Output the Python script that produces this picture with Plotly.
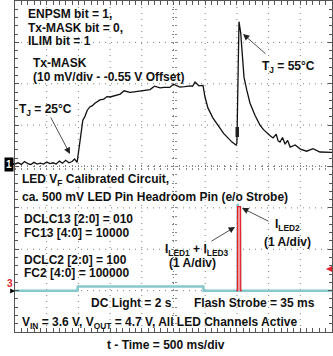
import plotly.graph_objects as go

# ---------------- data ----------------
# Channel 1: Tx-MASK, mV relative to -0.55 V offset (10 mV/div), time in s (500 ms/div)
t_mask = [0.00, 0.05, 0.10, 0.15, 0.20, 0.25, 0.30, 0.35, 0.40, 0.45, 0.50, 0.55, 0.60, 0.65,
          0.70, 0.75, 0.80, 0.85, 0.90, 0.94, 0.98,
          1.01, 1.04, 1.07, 1.10, 1.14, 1.18, 1.22, 1.26, 1.30, 1.34, 1.40, 1.45, 1.50, 1.55,
          1.60, 1.66, 1.72, 1.81, 1.85, 1.90, 1.97, 2.05, 2.13, 2.20, 2.29, 2.35, 2.44, 2.50,
          2.60, 2.68, 2.76, 2.80, 2.84, 2.90, 2.965,
          2.997, 3.044, 3.123, 3.18, 3.233, 3.29, 3.344, 3.40, 3.423, 3.46, 3.486, 3.50, 3.515,
          3.533, 3.56, 3.585, 3.612, 3.655, 3.707, 3.785, 3.864, 3.92, 3.97, 4.02, 4.07, 4.12,
          4.15, 4.18, 4.22, 4.26, 4.30, 4.34, 4.42, 4.50, 4.60, 4.70, 4.81, 4.90, 5.00]
v_mask = [0.6, 0.9, 0.5, 1.2, 0.7, 0.5, 1.0, 0.6, 0.8, 0.6, 1.1, 0.7, 0.9, 0.6,
          1.3, 0.8, 1.5, 0.9, 1.2, 1.8, 1.0,
          4.0, 8.1, 11.2, 12.0, 13.6, 14.4, 14.7, 15.3, 15.6, 16.1, 16.3, 16.9, 16.8, 17.0,
          17.1, 17.5, 18.3, 17.9, 18.0, 18.1, 18.2, 18.4, 18.6, 19.4, 19.0, 19.1, 19.1, 19.9,
          19.2, 19.3, 19.5, 19.4, 20.4, 19.5, 19.6,
          16.8, 14.1, 11.7, 10.3, 9.3, 8.0, 7.1, 6.3, 5.9, 5.5, 5.2, 5.6, 20.0,
          35.0, 32.3, 25.7, 21.6, 18.5, 15.3, 12.4, 10.0, 8.9, 8.1, 7.5, 6.9, 7.8,
          6.2, 5.9, 7.0, 5.4, 6.3, 4.7, 5.2, 4.2, 3.7, 4.3, 3.5, 3.4, 3.4]

# LED currents in A (1 A/div)
t_led13 = [0.0, 0.985, 0.99, 2.97, 2.975, 3.512, 3.514, 3.518, 3.548, 3.55, 5.0]
i_led13 = [0.0, 0.0, 0.1, 0.1, 0.0, 0.0, 2.1, 1.45, 1.45, 0.0, 0.0]
t_led2 = [3.49, 3.508, 3.51, 3.558, 3.56, 3.58]
i_led2 = [0.0, 0.0, 2.03, 2.03, 0.0, 0.0]

# graticule: 10 x 8 divisions
T_DIV = 0.5      # s/div
V_DIV = 10       # mV/div
N_XDIV, N_YDIV = 10, 8

# ---------------- layout helpers ----------------
W, H = 333, 356
X0, X1, Y0, Y1 = 15, 332, 1, 332


def px(x):
    return (x - X0) / (X1 - X0)


def py(y):
    return (Y1 - y) / (Y1 - Y0)


FONT = dict(family="Liberation Sans, Arial, sans-serif", size=12, color="#111111", weight="bold")

fig = go.Figure()

fig.add_trace(go.Scatter(x=t_led13, y=i_led13, mode="lines", yaxis="y2",
                         line=dict(color="#86c9cc", width=2.5), hoverinfo="skip", showlegend=False))
fig.add_trace(go.Scatter(x=t_led2, y=i_led2, mode="lines", yaxis="y2",
                         line=dict(color="#e3242b", width=1.2), fill="tozeroy",
                         fillcolor="#f29a9a", hoverinfo="skip", showlegend=False))
fig.add_trace(go.Scatter(x=t_mask, y=v_mask, mode="lines",
                         line=dict(color="#111111", width=1.3), hoverinfo="skip", showlegend=False))
# dummy traces to activate centre graticule axes
fig.add_trace(go.Scatter(x=[None], y=[None], xaxis="x2", yaxis="y3", showlegend=False))
fig.add_trace(go.Scatter(x=[None], y=[None], xaxis="x3", yaxis="y4", showlegend=False))

frame = dict(showgrid=False, zeroline=False, showticklabels=False, showline=True,
             linecolor="#555555", linewidth=1, mirror="allticks", ticks="inside",
             ticklen=4, tickcolor="#555555")
centre = dict(showgrid=False, zeroline=False, showticklabels=False, showline=False,
              ticklen=2, tickcolor="#888888", anchor="free", position=0.5)

xr = [0, N_XDIV * T_DIV]
yr = [-N_YDIV / 2 * V_DIV, N_YDIV / 2 * V_DIV]
fig.update_layout(
    width=W, height=H,
    margin=dict(l=X0, r=W - X1, t=Y0, b=H - Y1),
    paper_bgcolor="white", plot_bgcolor="white",
    xaxis=dict(range=xr, dtick=T_DIV, tick0=0,
               minor=dict(dtick=T_DIV / 5, ticklen=3, tickcolor="#555555", ticks="inside"),
               **frame),
    yaxis=dict(range=yr, dtick=V_DIV, tick0=0,
               minor=dict(dtick=V_DIV / 5, ticklen=3, tickcolor="#555555", ticks="inside"),
               **frame),
    yaxis2=dict(range=[-1, 7], overlaying="y", visible=False),
    xaxis2=dict(range=xr, overlaying="x", dtick=T_DIV / 5, ticks="inside", **centre),
    xaxis3=dict(range=xr, overlaying="x", dtick=T_DIV / 5, ticks="outside", **centre),
    yaxis3=dict(range=yr, overlaying="y", dtick=V_DIV / 5, ticks="inside", **centre),
    yaxis4=dict(range=yr, overlaying="y", dtick=V_DIV / 5, ticks="outside", **centre),
)

# dotted graticule lines
gline = dict(color="#808080", width=1, dash="1px,5px")
for k in range(1, N_XDIV):
    fig.add_shape(type="line", xref="x", yref="paper", x0=k * T_DIV, x1=k * T_DIV,
                  y0=0, y1=1, line=gline, layer="below")
for k in range(1, N_YDIV):
    yv = yr[0] + k * V_DIV
    fig.add_shape(type="line", xref="paper", yref="y", x0=0, x1=1,
                  y0=yv, y1=yv, line=gline, layer="below")

texts = [
    ("ENPSM bit = 1,", 26, 14, "left"),
    ("Tx-MASK bit = 0,", 26, 27.5, "left"),
    ("ILIM bit = 1", 26, 41, "left"),
    ("Tx-MASK", 31, 63, "left"),
    ("(10 mV/div - -0.55 V Offset)", 31, 77, "left"),
    ("T<sub>J</sub> = 25°C", 17, 110, "left"),
    ("T<sub>J</sub> = 55°C", 260, 67, "left"),
    ("LED V<sub>F</sub> Calibrated Circuit,", 20, 180, "left"),
    ("ca. 500 mV LED Pin Headroom Pin (e/o Strobe)", 20, 197, "left"),
    ("DCLC13 [2:0] = 010", 22, 219, "left"),
    ("FC13 [4:0] = 10000", 22, 233, "left"),
    ("DCLC2 [2:0] = 100", 22, 260, "left"),
    ("FC2 [4:0] = 100000", 22, 273, "left"),
    ("I<sub>LED1</sub> + I<sub>LED3</sub>", 231, 250, "right"),
    ("(1 A/div)", 193, 263, "center"),
    ("I<sub>LED2</sub>", 273, 225, "left"),
    ("(1 A/div)", 287, 242, "center"),
    ("DC Light = 2 s", 89, 303, "left"),
    ("Flash Strobe = 35 ms", 192, 303, "left"),
    ("V<sub>IN</sub> = 3.6 V, V<sub>OUT</sub> = 4.7 V, All LED Channels Active", 20, 323, "left"),
    ("t - Time = 500 ms/div", 166, 345, "center"),
]
for txt, x, y, anc in texts:
    fig.add_annotation(text=txt, x=px(x), y=py(y), xref="paper", yref="paper",
                       xanchor=anc, yanchor="middle", showarrow=False, font=FONT)

# arrows (head x,y ; tail offset)
arrows = [(70, 154, -20, -38), (243, 34, 24, 21), (235, 227, -25, 15), (242, 208, 28, 14)]
for hx, hy, ax, ay in arrows:
    fig.add_annotation(text="", x=px(hx), y=py(hy), xref="paper", yref="paper",
                       ax=ax, ay=ay, showarrow=True, arrowhead=2, arrowsize=1.6,
                       arrowwidth=0.8, arrowcolor="#222222", standoff=0)

# channel markers
fig.add_annotation(text="1", x=px(4), y=py(164), xref="paper", yref="paper", showarrow=False,
                   font=dict(family="Liberation Sans", size=10, color="white", weight="bold"),
                   bgcolor="black", borderpad=1)
fig.add_annotation(text="", x=px(15), y=py(164), xref="paper", yref="paper", ax=-7, ay=0,
                   showarrow=True, arrowhead=2, arrowsize=0.8, arrowwidth=1.2,
                   arrowcolor="black", standoff=0)
fig.add_annotation(text="3", x=px(4.5), y=py(291), xref="paper", yref="paper", showarrow=False,
                   font=dict(family="Liberation Sans", size=10, color="#e3242b", weight="bold"))
fig.add_annotation(text="", x=px(15), y=py(291), xref="paper", yref="paper", ax=-6, ay=0,
                   showarrow=True, arrowhead=2, arrowsize=0.8, arrowwidth=1.2,
                   arrowcolor="black", standoff=0)
fig.add_annotation(text="", x=px(326), y=py(269), xref="paper", yref="paper", ax=7, ay=0,
                   showarrow=True, arrowhead=2, arrowsize=0.8, arrowwidth=1.5,
                   arrowcolor="#e3242b", standoff=0)

# cursor marker on the Tx-MASK trace
fig.add_shape(type="rect", xref="paper", yref="paper", x0=px(235.5), x1=px(239),
              y0=py(137), y1=py(127), fillcolor="#222222", line=dict(width=0))

fig.write_html("out.html")
